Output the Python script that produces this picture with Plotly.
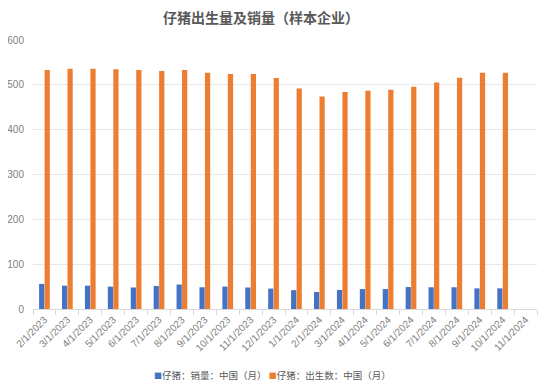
import plotly.graph_objects as go

categories = ["2/1/2023", "3/1/2023", "4/1/2023", "5/1/2023", "6/1/2023", "7/1/2023",
              "8/1/2023", "9/1/2023", "10/1/2023", "11/1/2023", "12/1/2023",
              "1/1/2024", "2/1/2024", "3/1/2024", "4/1/2024", "5/1/2024", "6/1/2024",
              "7/1/2024", "8/1/2024", "9/1/2024", "10/1/2024", "11/1/2024"]

sales = [56, 52, 52, 50, 48, 51.5, 54.5, 48.5, 50, 48, 45.5,
         42, 38, 42.5, 44.5, 44.5, 49, 48.5, 48.5, 46, 46, None]

births = [533, 536, 536, 535, 533, 531, 533, 527, 524, 524, 515,
          492, 474, 484, 487, 489, 496, 505, 516, 527, 527, None]

name_sales = "仔猪：销量：中国（月）"
name_births = "仔猪：出生数：中国（月）"
color_sales = "#4472C4"
color_births = "#ED7D31"

cjk = "Noto Sans CJK SC, Noto Sans, sans-serif"
latin = "Liberation Sans, Arial, sans-serif"

fig = go.Figure()
fig.add_trace(go.Bar(x=categories, y=sales, name=name_sales,
                     marker=dict(color=color_sales, line=dict(width=0))))
fig.add_trace(go.Bar(x=categories, y=births, name=name_births,
                     marker=dict(color=color_births, line=dict(width=0))))

fig.update_layout(
    width=542, height=383,
    margin=dict(l=25, r=13, t=32, b=82, autoexpand=False),
    paper_bgcolor="white", plot_bgcolor="white",
    barmode="group", bargap=0.52, bargroupgap=0.05,
    font=dict(family=latin, color="#7F7F7F", size=10),
    title=dict(text="<b>仔猪出生量及销量（样本企业）</b>", x=0.467, xanchor="center",
               y=0.974, yanchor="middle",
               font=dict(size=14, color="#595959", family=cjk)),
    showlegend=False,
)

legend_text = (f'<span style="color:{color_sales};font-size:8px">■</span>{name_sales} '
               f'<span style="color:{color_births};font-size:8px">■</span>{name_births}')
fig.add_annotation(text=legend_text, xref="paper", yref="paper",
                   x=0.476, xanchor="center", y=-0.247, yanchor="middle",
                   showarrow=False, font=dict(size=9.5, color="#595959", family=cjk))

fig.update_xaxes(type="category", tickangle=-45, tickson="boundaries",
                 ticks="outside", ticklen=5, tickcolor="#D9D9D9",
                 showline=True, linecolor="#D9D9D9", linewidth=1, automargin=False,
                 tickfont=dict(size=10, color="#7F7F7F", family=latin), showgrid=False)
fig.update_yaxes(range=[0, 600], dtick=100, showgrid=True, gridcolor="#E7E7E7",
                 gridwidth=1, zeroline=False, showline=False, automargin=False,
                 ticklabelstandoff=8,
                 tickfont=dict(size=10, color="#7F7F7F", family=latin), ticks="")

fig.write_html("out.html")
